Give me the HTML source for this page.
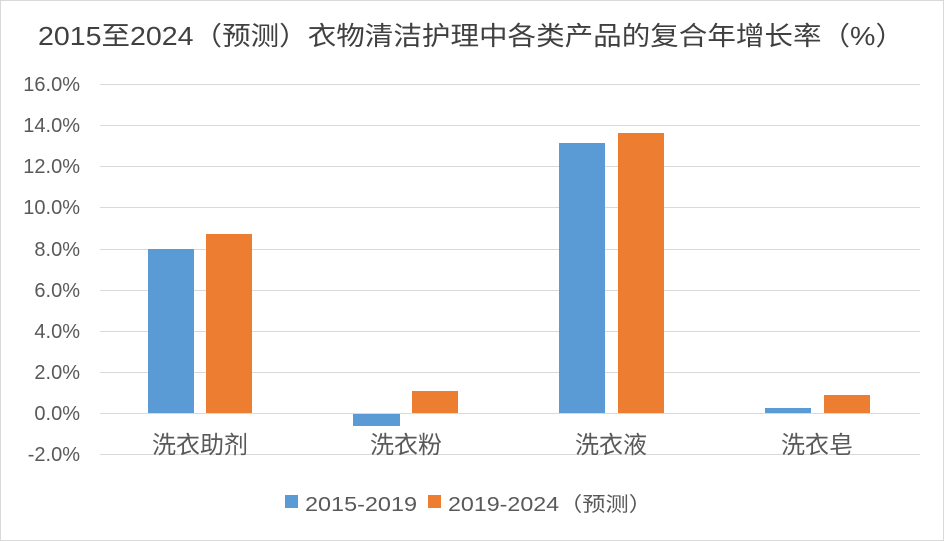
<!DOCTYPE html>
<html><head><meta charset="utf-8"><style>
body{margin:0;background:#fff}
svg{display:block}
text{font-family:"Liberation Sans","Noto Sans CJK SC",sans-serif}
</style></head><body>
<svg width="944" height="541" viewBox="0 0 944 541">
<rect x="0.5" y="0.5" width="943" height="540" fill="#fff" stroke="#d9d9d9"/>
<text x="38" y="45" font-size="26" fill="#404040" textLength="866" lengthAdjust="spacingAndGlyphs">2015至2024（预测）衣物清洁护理中各类产品的复合年增长率（%）</text>
<g stroke="#d9d9d9" stroke-width="1">
<line x1="100" x2="920" y1="84.5" y2="84.5"/>
<line x1="100" x2="920" y1="125.5" y2="125.5"/>
<line x1="100" x2="920" y1="166.5" y2="166.5"/>
<line x1="100" x2="920" y1="207.5" y2="207.5"/>
<line x1="100" x2="920" y1="249.5" y2="249.5"/>
<line x1="100" x2="920" y1="290.5" y2="290.5"/>
<line x1="100" x2="920" y1="331.5" y2="331.5"/>
<line x1="100" x2="920" y1="372.5" y2="372.5"/>
<line x1="100" x2="920" y1="454.5" y2="454.5"/>
</g>
<g font-size="20" fill="#595959" text-anchor="end">
<text x="80" y="91">16.0%</text>
<text x="80" y="132">14.0%</text>
<text x="80" y="173">12.0%</text>
<text x="80" y="214">10.0%</text>
<text x="80" y="256">8.0%</text>
<text x="80" y="297">6.0%</text>
<text x="80" y="338">4.0%</text>
<text x="80" y="379">2.0%</text>
<text x="80" y="420">0.0%</text>
<text x="80" y="461">-2.0%</text>
</g>
<g fill="#5b9bd5">
<rect x="148" y="249" width="46" height="164"/>
<rect x="353" y="413" width="47" height="13"/>
<rect x="559" y="143" width="46" height="270"/>
<rect x="765" y="408" width="46" height="5"/>
</g>
<g fill="#ed7d31">
<rect x="206" y="234" width="46" height="179"/>
<rect x="412" y="391" width="46" height="22"/>
<rect x="618" y="133" width="46" height="280"/>
<rect x="824" y="395" width="46" height="18"/>
</g>
<line x1="100" x2="920" y1="413.5" y2="413.5" stroke="#d9d9d9"/>
<g font-size="24" fill="#595959" text-anchor="middle">
<text x="200" y="453">洗衣助剂</text>
<text x="406" y="453">洗衣粉</text>
<text x="611" y="453">洗衣液</text>
<text x="817" y="453">洗衣皂</text>
</g>
<rect x="285" y="495" width="13" height="13" fill="#5b9bd5"/>
<text x="305" y="511" font-size="20" fill="#595959" textLength="112" lengthAdjust="spacingAndGlyphs">2015-2019</text>
<rect x="428" y="495" width="13" height="13" fill="#ed7d31"/>
<text x="448" y="511" font-size="20" fill="#595959" textLength="204" lengthAdjust="spacingAndGlyphs">2019-2024（预测）</text>
</svg>
</body></html>
